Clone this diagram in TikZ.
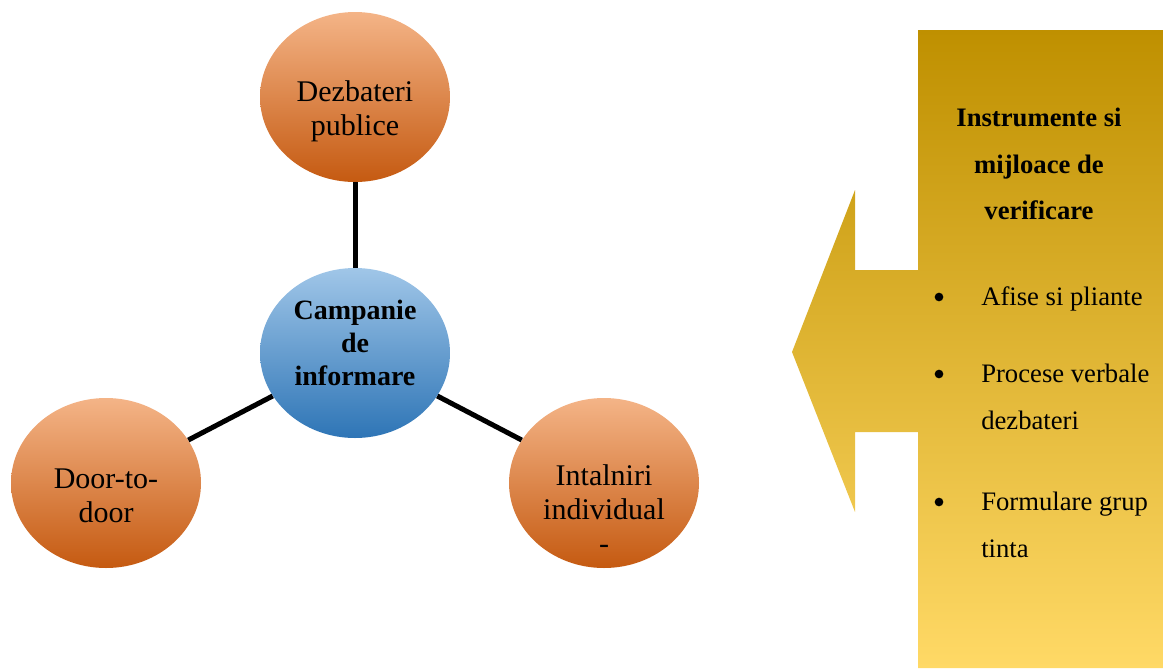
\documentclass[tikz,border=0pt]{standalone}
\usepackage{fontspec}
\setmainfont{LiberationSerif}[Extension=.ttf, UprightFont=*-Regular, BoldFont=*-Bold, ItalicFont=*-Italic, BoldItalicFont=*-BoldItalic]
\usetikzlibrary{shapes.geometric}
\definecolor{orTop}{RGB}{244,180,135}
\definecolor{orBot}{RGB}{197,90,17}
\definecolor{blTop}{RGB}{160,198,232}
\definecolor{blBot}{RGB}{46,117,182}
\definecolor{goTop}{RGB}{191,144,0}
\definecolor{goBot}{RGB}{255,217,102}
\tikzset{
  bubble/.style={ellipse, inner sep=0pt, minimum width=142.5pt, minimum height=127.5pt, draw=none},
  orbubble/.style={bubble, top color=orTop, bottom color=orBot},
  blbubble/.style={bubble, top color=blTop, bottom color=blBot},
  btext/.style={align=center, font=\fontsize{22.5}{25.5}\selectfont, inner sep=0pt},
  ctext/.style={align=center, font=\fontsize{21}{24.75}\selectfont\bfseries, inner sep=0pt},
  link/.style={line width=3.75pt, draw=black},
  ptext/.style={font=\fontsize{20}{35}\selectfont, inner sep=0pt},
  ttext/.style={align=center, font=\fontsize{20}{35}\selectfont\bfseries, inner sep=0pt},
  dot/.style={circle, fill=black, inner sep=0pt, minimum size=6.5pt}
}
\begin{document}
\begin{tikzpicture}[x=0.75pt,y=-0.75pt]
\useasboundingbox (0,0) rectangle (1163,668);
% right panel
\shade[top color=goTop, bottom color=goBot]
  (918,30) -- (1163,30) -- (1163,668) -- (918,668) -- (918,432) -- (855,432)
  -- (855,512) -- (792,352) -- (855,190) -- (855,270) -- (918,270) -- cycle;
\node[ttext] (title) at (1039,164) {Instrumente si\\mijloace de\\verificare};
\node[dot] (b1) at (939,297) {};
\node[dot] (b2) at (939,374) {};
\node[dot] (b3) at (939,502) {};
\node[ptext, anchor=base west] (i1) at (981,305) {Afise si pliante};
\node[ptext, anchor=base west] (i2) at (981,382) {Procese verbale};
\node[ptext, anchor=base west] (i2b) at (981,429) {dezbateri};
\node[ptext, anchor=base west] (i3) at (981,510) {Formulare grup};
\node[ptext, anchor=base west] (i3b) at (981,557) {tinta};
% bubbles
\node[orbubble] (top) at (355,97) {};
\node[blbubble] (mid) at (355,353) {};
\node[orbubble] (left) at (106,483) {};
\node[orbubble] (right) at (604,483) {};
\draw[link] (top) -- (mid);
\draw[link] (mid) -- (left);
\draw[link] (mid) -- (right);
\node[btext] (ttop) at (355,111) {Dezbateri\\publice};
\node[ctext] (tmid) at (355,343) {Campanie\\de\\informare};
\node[btext] (tleft) at (106,496) {Door-to-\\door};
\node[btext] (tright) at (604,509) {Intalniri\\individual\\-};
\end{tikzpicture}
\end{document}
